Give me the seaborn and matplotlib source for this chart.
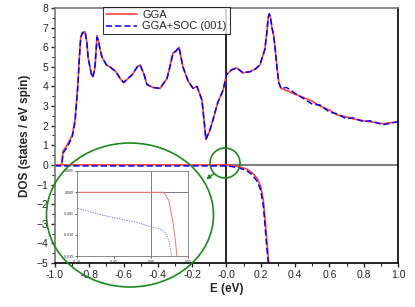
import numpy as np
import pandas as pd
import matplotlib
matplotlib.use("Agg")
import matplotlib.pyplot as plt
from matplotlib.patches import Ellipse
import seaborn as sns

# DOS spin up, main panel
E_up = [-1.00, -0.97, -0.96, -0.953, -0.93, -0.90, -0.883, -0.866, -0.858, -0.85, -0.84,
        -0.825, -0.815, -0.807, -0.79, -0.78, -0.77, -0.765, -0.755, -0.745, -0.74, -0.726, -0.70, -0.68,
        -0.644, -0.62, -0.60, -0.575, -0.55, -0.52, -0.504, -0.48, -0.464, -0.43,
        -0.388, -0.347, -0.33, -0.312, -0.295, -0.277, -0.254, -0.225, -0.195, -0.172,
        -0.143, -0.13, -0.12, -0.10, -0.085, -0.05, -0.02, 0.00, 0.03, 0.06,
        0.095, 0.137, 0.17, 0.195, 0.224, 0.236, 0.243, 0.25, 0.257, 0.265, 0.275, 0.283, 0.294, 0.305, 0.318,
        0.35, 0.40, 0.446, 0.50, 0.545, 0.60, 0.644, 0.70, 0.738, 0.80, 0.837, 0.913, 1.00]
gga_up = [0.0, 0.0, 0.05, 0.7, 1.0, 1.5, 2.3, 4.2, 5.5, 6.5, 6.7,
          6.8, 6.3, 5.5, 4.7, 4.5, 4.8, 5.2, 6.6, 6.3, 6.0, 5.5, 5.1, 5.0,
          4.75, 4.4, 4.2, 4.4, 4.6, 5.0, 5.1, 4.6, 4.1, 3.95,
          3.9, 4.4, 5.0, 5.7, 5.8, 6.0, 5.0, 4.3, 3.9, 4.0,
          3.3, 2.2, 1.3, 1.7, 2.1, 3.2, 3.8, 4.6, 4.85, 4.95,
          4.7, 4.75, 4.9, 5.1, 5.9, 6.8, 7.5, 7.7, 7.5, 7.0, 6.6, 6.0, 5.0, 4.2, 3.9,
          3.8, 3.6, 3.45, 3.25, 3.0, 2.8, 2.55, 2.45, 2.35, 2.25, 2.2, 2.1, 2.2]
soc_up = [0.0, 0.0, 0.02, 0.6, 0.9, 1.4, 2.2, 4.1, 5.4, 6.5, 6.75,
          6.8, 6.3, 5.5, 4.7, 4.45, 4.8, 5.2, 6.5, 6.3, 6.0, 5.5, 5.1, 5.0,
          4.75, 4.4, 4.2, 4.4, 4.6, 5.0, 5.1, 4.6, 4.1, 3.95,
          3.9, 4.4, 5.0, 5.7, 5.8, 6.0, 5.0, 4.3, 3.9, 4.0,
          3.3, 2.2, 1.3, 1.7, 2.1, 3.2, 3.8, 4.6, 4.85, 4.95,
          4.7, 4.75, 4.9, 5.1, 5.9, 6.8, 7.5, 7.7, 7.5, 7.0, 6.6, 6.0, 5.0, 4.2, 3.9,
          3.95, 3.65, 3.4, 3.1, 3.05, 2.7, 2.6, 2.35, 2.4, 2.2, 2.25, 2.05, 2.2]

# DOS spin down, main panel
E_dn = [-1.00, -0.50, 0.00, 0.03, 0.076, 0.12, 0.15, 0.18, 0.20, 0.215,
        0.224, 0.235, 0.245, 0.25]
gga_dn = [0.0, 0.0, 0.0, -0.02, -0.1, -0.22, -0.4, -0.7, -1.1, -1.8,
          -2.65, -3.8, -4.85, -5.2]
soc_dn = [-0.05, -0.05, -0.05, -0.08, -0.16, -0.3, -0.5, -0.85, -1.3, -2.1,
          -3.0, -4.2, -5.1, -5.3]

# inset (zoom around E = 0)
inset_E_gga = [-0.10, 0.0, 0.0173, 0.024, 0.0293, 0.033, 0.035]
inset_gga = [0.0, 0.0, 0.0, -0.0019, -0.0066, -0.0113, -0.015]
inset_E_soc = [-0.0987, -0.065, -0.033, -0.0187, -0.0027, 0.0133, 0.020, 0.024, 0.028]
inset_soc = [-0.0038, -0.0054, -0.0066, -0.0071, -0.008, -0.0087, -0.0096, -0.0113, -0.015]

sns.set_style("ticks")
plt.rcParams['font.family'] = ['Liberation Sans', 'DejaVu Sans']

fig = plt.figure(figsize=(4.15, 3.07), dpi=100)
ax = fig.add_axes([0.1325, 0.1433, 0.8265, 0.8307])

red = "#ff4040"
blue = "#0000ff"

sns.lineplot(x=E_up, y=gga_up, ax=ax, color=red, lw=1.2, sort=False, estimator=None, label="GGA")
sns.lineplot(x=E_up, y=soc_up, ax=ax, color=blue, lw=1.1, sort=False, estimator=None,
             label="GGA+SOC (001)")
ax.lines[-1].set_linestyle((0, (4, 2)))
sns.lineplot(x=E_dn, y=gga_dn, ax=ax, color=red, lw=1.2, sort=False, estimator=None)
ax.lines[-1].set_label("_nolegend_")
sns.lineplot(x=E_dn, y=soc_dn, ax=ax, color=blue, lw=1.1, sort=False, estimator=None)
ax.lines[-1].set_linestyle((0, (4, 2)))
ax.lines[-1].set_label("_nolegend_")

ax.axvline(0, color="black", lw=1.2, zorder=0)
ax.hlines(0, 0, 1, color="gray", lw=1.5, zorder=0)

ax.set_xlim(-1.0, 1.0)
ax.set_ylim(-5, 8)
ax.set_xticks(np.arange(-1.0, 1.01, 0.2))
ax.set_xticks(np.arange(-0.9, 1.0, 0.2), minor=True)
ax.set_yticks(np.arange(-5, 9, 1))
ax.set_yticks(np.arange(-4.5, 8, 1), minor=True)
ax.xaxis.set_major_formatter(matplotlib.ticker.FormatStrFormatter('%.1f'))
ax.tick_params(which="major", direction="out", length=3, width=1, labelsize=7.5, pad=2)
ax.tick_params(which="minor", direction="out", length=2, width=0.8)
ax.set_xlabel("E (eV)", fontsize=8.5, fontweight="bold", labelpad=2)
ax.set_ylabel("DOS (states / eV spin)", fontsize=8.5, fontweight="bold", labelpad=4)

for side in ["left", "top"]:
    ax.spines[side].set_color("#777777")
for side in ["right", "bottom"]:
    ax.spines[side].set_color("black")
for s in ax.spines.values():
    s.set_linewidth(1.2)

leg = ax.legend(loc="upper left", bbox_to_anchor=(103 / 415, 1 - 7 / 307),
                bbox_transform=fig.transFigure, fontsize=8, frameon=True,
                fancybox=False, borderaxespad=0, handlelength=2.8,
                borderpad=0.25, labelspacing=0.15, handletextpad=0.5)
leg.get_frame().set_edgecolor("black")
leg.get_frame().set_linewidth(0.8)

# inset
axin = fig.add_axes([0.1855, 0.166, 0.2675, 0.277])
sns.lineplot(x=inset_E_gga, y=inset_gga, ax=axin, color="#ff7070", lw=0.7, sort=False, estimator=None)
sns.lineplot(x=inset_E_soc, y=inset_soc, ax=axin, color="#6060ff", lw=0.6, sort=False, estimator=None)
axin.lines[-1].set_linestyle((0, (1.5, 1.5)))
axin.axvline(0, color="#666666", lw=0.6, zorder=0)
axin.axhline(0, color="#666666", lw=0.6, zorder=0)
axin.set_xlim(-0.10, 0.05)
axin.set_ylim(-0.015, 0.005)
axin.set_xticks([-0.10, -0.05, 0.00, 0.05])
axin.set_yticks([-0.015, -0.010, -0.005, 0.000, 0.005])
axin.xaxis.set_major_formatter(matplotlib.ticker.FormatStrFormatter('%.2f'))
axin.yaxis.set_major_formatter(matplotlib.ticker.FormatStrFormatter('%.3f'))
axin.tick_params(labelsize=2.5, length=1.5, width=0.5, pad=1)
for s in axin.spines.values():
    s.set_color("#777777")
    s.set_linewidth(0.6)

# green circles and arrow
green = "#1a8a1a"
fig.patches.append(Ellipse((130 / 415, 1 - 215 / 307), 167 / 415, 144 / 307,
                           transform=fig.transFigure, fill=False, edgecolor=green, lw=1.2, zorder=5))
fig.patches.append(Ellipse((225 / 415, 1 - 163 / 307), 30 / 415, 30 / 307,
                           transform=fig.transFigure, fill=False, edgecolor=green, lw=1.2, zorder=5))
ax.annotate("", xy=(204 / 415, 1 - 181 / 307), xycoords="figure fraction",
            xytext=(216 / 415, 1 - 172 / 307), textcoords="figure fraction",
            arrowprops=dict(arrowstyle="-|>", color=green, lw=1.0, mutation_scale=6))

fig.savefig("out.png", dpi=100)
